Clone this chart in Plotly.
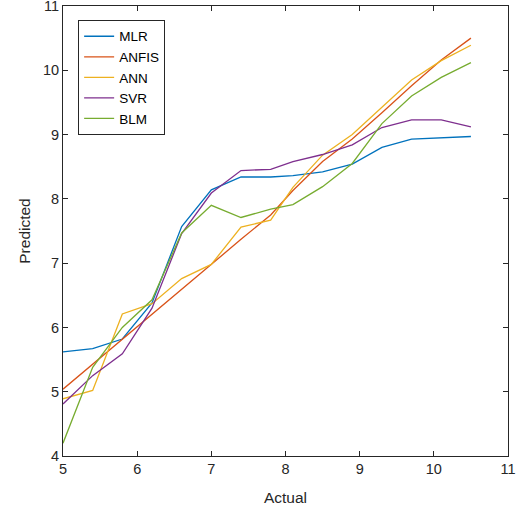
import plotly.graph_objects as go

# Actual values (x) shared by all models
actual = [5.0, 5.4, 5.8, 6.2, 6.6, 7.0, 7.4, 7.8, 8.1, 8.5, 8.9, 9.3, 9.7, 10.1, 10.5]

# Predicted values per model
mlr   = [5.62, 5.67, 5.82, 6.38, 7.57, 8.14, 8.34, 8.34, 8.36, 8.42, 8.54, 8.80, 8.93, 8.95, 8.97]
anfis = [5.04, 5.43, 5.82, 6.21, 6.60, 6.99, 7.37, 7.75, 8.13, 8.58, 8.93, 9.34, 9.76, 10.16, 10.50]
ann   = [4.89, 5.02, 6.21, 6.37, 6.76, 6.98, 7.56, 7.67, 8.18, 8.68, 9.00, 9.43, 9.85, 10.15, 10.39]
svr   = [4.81, 5.25, 5.59, 6.30, 7.46, 8.09, 8.44, 8.46, 8.58, 8.69, 8.84, 9.11, 9.23, 9.23, 9.12]
blm   = [4.20, 5.38, 6.00, 6.43, 7.47, 7.90, 7.71, 7.84, 7.91, 8.19, 8.55, 9.17, 9.60, 9.89, 10.12]

series = [
    ("MLR", mlr, "#0072BD"),
    ("ANFIS", anfis, "#D95319"),
    ("ANN", ann, "#EDB120"),
    ("SVR", svr, "#7E2F8E"),
    ("BLM", blm, "#77AC30"),
]

x_ticks = [5, 6, 7, 8, 9, 10, 11]
y_ticks = [4, 5, 6, 7, 8, 9, 10, 11]

FONT = "Liberation Sans, Arial, Helvetica, sans-serif"

fig = go.Figure()
for name, vals, color in series:
    fig.add_trace(go.Scatter(x=actual, y=vals, mode="lines", name=name,
                             line=dict(color=color, width=1.3)))

axis_common = dict(
    showline=True, linecolor="#262626", linewidth=1, mirror="ticks",
    ticks="inside", ticklen=5, tickcolor="#262626", tickwidth=1,
    showgrid=False, zeroline=False, automargin=False,
    tickfont=dict(family=FONT, size=14.5, color="#262626"),
)

fig.update_layout(
    width=520, height=513,
    margin=dict(l=63, r=12, t=6, b=57),
    paper_bgcolor="white", plot_bgcolor="white",
    font=dict(family=FONT, color="#262626"),
    xaxis=dict(range=[5, 11], tickvals=x_ticks,
               title=dict(text="Actual", font=dict(family=FONT, size=15.5), standoff=15),
               **axis_common),
    yaxis=dict(range=[4, 11], tickvals=y_ticks, ticklabeloverflow="allow",
               title=dict(text="Predicted", font=dict(family=FONT, size=15.5), standoff=8),
               **axis_common),
    legend=dict(x=0.034, y=0.969, xanchor="left", yanchor="top",
                bgcolor="white", bordercolor="#262626", borderwidth=1,
                font=dict(family=FONT, size=13.5, color="#000000"),
                tracegroupgap=0, itemwidth=30),
    showlegend=True,
)

fig.write_html("out.html")
